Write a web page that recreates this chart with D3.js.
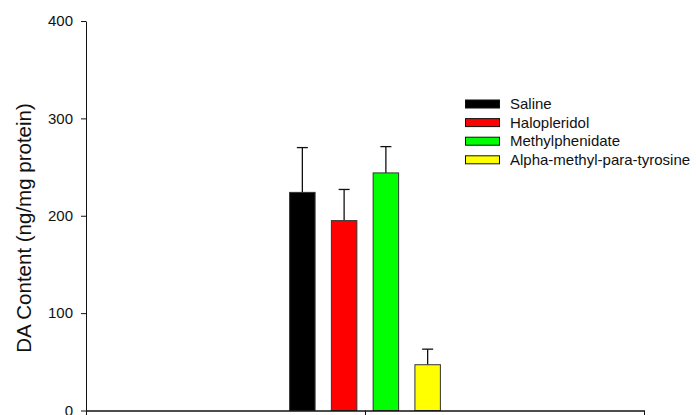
<!DOCTYPE html>
<html lang="en">
    <head>
        <meta charset="utf-8">
        <title>DA Content</title>
        <script type="text/javascript" src="https://cdn.jsdelivr.net/npm/d3@7/dist/d3.min.js"></script>
        <style type="text/css">
        body {
            margin: 0;
            background: #fff;
        }
        svg {
            display: block;
            font-family: "Liberation Sans", Arial, sans-serif;
        }
        .axis path,
        .axis line {
            fill: none;
            stroke: #111;
        }
        .axis text {
            font-family: "Liberation Sans", Arial, sans-serif;
            font-size: 15px;
            fill: #111;
        }
        </style>
    </head>
    <body>
        <script>
                var w = 696;
                var h = 415;

                // data
                var groups = ["DA"];
                var series = ["Saline", "Halopleridol", "Methylphenidate", "Alpha-methyl-para-tyrosine"];
                var means = [224, 195, 244, 47];
                var errors = [46, 32, 27, 16];
                var colors = ["#000000", "#ff0000", "#00ff00", "#ffff00"];
                var yTicks = [0, 100, 200, 300, 400];

                // plot area edges (note: "top" is reserved on window)
                var pLeft = 86, pRight = 644, pTop = 21, pBottom = 410.5;

                var svg = d3.select("body")
                  .append("svg")
                  .attr("width", w)
                  .attr("height", h);

                // group scale and bar scale inside the group
                var x0 = d3.scaleBand()
                  .domain(groups)
                  .range([pLeft, pRight])
                  .paddingInner(0)
                  .paddingOuter(1.17);

                var x1 = d3.scaleBand()
                  .domain(series)
                  .range([0, x0.bandwidth()])
                  .paddingInner(0.39)
                  .paddingOuter(0.195);

                var yScale = d3.scaleLinear()
                  .domain([0, 400])
                  .range([pBottom, pTop]);

                // tick positions along x (edges + group centre)
                var xTickScale = d3.scaleLinear()
                  .domain([0, 2])
                  .range([pLeft, pRight]);

                var rows = [];
                series.forEach(function (s, i) {
                  rows.push({ group: groups[0], name: s, mean: means[i], err: errors[i], color: colors[i] });
                });

                // bars
                var bar = svg.append("g")
                  .selectAll("g")
                  .data(rows)
                  .enter()
                  .append("g")
                  .attr("transform", function (d) { return "translate(" + x0(d.group) + ",0)"; });

                // error bars (upper only)
                bar.append("line")
                  .attr("x1", function (d) { return x1(d.name) + x1.bandwidth() / 2; })
                  .attr("x2", function (d) { return x1(d.name) + x1.bandwidth() / 2; })
                  .attr("y1", function (d) { return yScale(d.mean); })
                  .attr("y2", function (d) { return yScale(d.mean + d.err); })
                  .attr("stroke", "#111")
                  .attr("stroke-width", 1.3);

                bar.append("line")
                  .attr("x1", function (d) { return x1(d.name) + x1.bandwidth() / 2 - 5.5; })
                  .attr("x2", function (d) { return x1(d.name) + x1.bandwidth() / 2 + 5.5; })
                  .attr("y1", function (d) { return yScale(d.mean + d.err); })
                  .attr("y2", function (d) { return yScale(d.mean + d.err); })
                  .attr("stroke", "#111")
                  .attr("stroke-width", 1.3);

                bar.append("rect")
                  .attr("x", function (d) { return x1(d.name); })
                  .attr("y", function (d) { return yScale(d.mean); })
                  .attr("width", x1.bandwidth())
                  .attr("height", function (d) { return yScale(0) - yScale(d.mean); })
                  .attr("fill", function (d) { return d.color; })
                  .attr("stroke", "#333")
                  .attr("stroke-width", 1);

                // y axis
                svg.append("g")
                  .attr("class", "axis")
                  .attr("transform", "translate(" + pLeft + ",0)")
                  .call(d3.axisLeft(yScale).tickValues(yTicks).tickSize(5).tickPadding(8).tickSizeOuter(0));

                // x axis
                svg.append("g")
                  .attr("class", "axis")
                  .attr("transform", "translate(0," + pBottom + ")")
                  .call(d3.axisBottom(xTickScale).tickValues([0, 1, 2]).tickSize(5).tickSizeOuter(0).tickFormat(""))
                  .select(".domain")
                  .attr("stroke-width", 1.6);

                // y label
                svg.append("text")
                  .text("DA Content (ng/mg protein)")
                  .attr("transform", "rotate(-90)")
                  .attr("x", -228)
                  .attr("y", 31)
                  .attr("text-anchor", "middle")
                  .attr("font-size", "20.5px")
                  .attr("fill", "#111");

                // legend
                var legend = svg.append("g")
                  .selectAll("g")
                  .data(series)
                  .enter()
                  .append("g")
                  .attr("transform", function (d, i) { return "translate(465," + (104 + i * 18.6) + ")"; });

                legend.append("rect")
                  .attr("x", 0.5)
                  .attr("y", -4)
                  .attr("width", 34)
                  .attr("height", 8)
                  .attr("fill", function (d, i) { return colors[i]; })
                  .attr("stroke", "#111")
                  .attr("stroke-width", 1);

                legend.append("text")
                  .text(function (d) { return d; })
                  .attr("x", 45)
                  .attr("y", 0)
                  .attr("dy", "0.35em")
                  .attr("font-size", "15px")
                  .attr("fill", "#111");

            </script>
    </body>
</html>
